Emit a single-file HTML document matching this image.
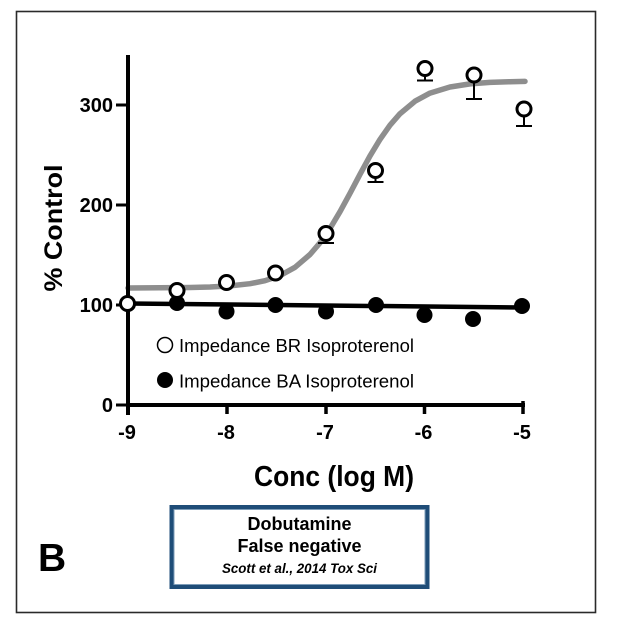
<!DOCTYPE html>
<html>
<head>
<meta charset="utf-8">
<style>
  html, body { margin:0; padding:0; background:#ffffff; }
  svg { display:block; }
  text { font-family: "Liberation Sans", Arial, sans-serif; fill:#000; }
</style>
</head>
<body>
<svg width="626" height="625" viewBox="0 0 626 625" xmlns="http://www.w3.org/2000/svg">
  <rect x="0" y="0" width="626" height="625" fill="#ffffff"/>
  <!-- outer frame -->
  <rect x="16.5" y="11.5" width="579" height="601" fill="none" stroke="#2a2a2a" stroke-width="1.6"/>

  <!-- gray fitted curve -->
  <polyline fill="none" stroke="#8e8e8e" stroke-width="5.5" stroke-linejoin="round" stroke-linecap="round"
    points="128,288 160,287.8 190,287.5 210,287 230,285.9 250,283.7 265,280.7 280,275.6 295,267.3 310,254.5 320,242.8 330,228.5 340,211.7 350,193.3 360,174.3 370,155.9 380,139.4 390,125.2 400,113.7 415,101.2 430,93.1 450,87 470,83.9 490,82.4 510,81.7 525,81.4"/>

  <!-- black fitted line -->
  <line x1="128" y1="303.5" x2="523" y2="307.5" stroke="#000" stroke-width="4.5"/>

  <!-- axes -->
  <line x1="128" y1="55" x2="128" y2="415" stroke="#000" stroke-width="4"/>
  <line x1="126" y1="405" x2="525" y2="405" stroke="#000" stroke-width="4"/>
  <!-- y ticks -->
  <g stroke="#000" stroke-width="3">
    <line x1="116" y1="105" x2="128" y2="105"/>
    <line x1="116" y1="205" x2="128" y2="205"/>
    <line x1="116" y1="305" x2="128" y2="305"/>
    <line x1="116" y1="405" x2="128" y2="405"/>
  </g>
  <!-- x ticks -->
  <g stroke="#000" stroke-width="3.5">
    <line x1="128" y1="405" x2="128" y2="415"/>
    <line x1="227" y1="405" x2="227" y2="414"/>
    <line x1="326" y1="405" x2="326" y2="414"/>
    <line x1="424.5" y1="405" x2="424.5" y2="414"/>
    <line x1="523" y1="401" x2="523" y2="414"/>
  </g>

  <!-- y tick labels -->
  <g font-size="20" font-weight="bold" text-anchor="end">
    <text x="113" y="112">300</text>
    <text x="113" y="212">200</text>
    <text x="113" y="312">100</text>
    <text x="113" y="412">0</text>
  </g>
  <!-- x tick labels -->
  <g font-size="20" font-weight="bold" text-anchor="middle">
    <text x="127" y="439">-9</text>
    <text x="226" y="439">-8</text>
    <text x="325" y="439">-7</text>
    <text x="423.5" y="439">-6</text>
    <text x="522" y="439">-5</text>
  </g>

  <!-- axis titles -->
  <text transform="translate(62,228) rotate(-90)" font-size="25" font-weight="bold" text-anchor="middle" textLength="127" lengthAdjust="spacingAndGlyphs">% Control</text>
  <text x="334" y="486" font-size="29" font-weight="bold" text-anchor="middle" textLength="160" lengthAdjust="spacingAndGlyphs" fill="#111">Conc (log M)</text>

  <!-- black points -->
  <g fill="#000">
    <circle cx="128" cy="304" r="8"/>
    <circle cx="177" cy="303" r="8"/>
    <circle cx="226.5" cy="311.5" r="8"/>
    <circle cx="275.5" cy="305" r="8"/>
    <circle cx="326" cy="311.5" r="8"/>
    <circle cx="376" cy="305" r="8"/>
    <circle cx="424.5" cy="315" r="8"/>
    <circle cx="473" cy="319" r="8"/>
    <circle cx="522" cy="306" r="8"/>
  </g>

  <!-- error bars for open points -->
  <g stroke="#000" stroke-width="2" fill="none">
    <line x1="326" y1="233" x2="326" y2="243"/><line x1="318" y1="243" x2="334" y2="243"/>
    <line x1="375.5" y1="171" x2="375.5" y2="182"/><line x1="367.5" y1="182" x2="383.5" y2="182"/>
    <line x1="425" y1="68" x2="425" y2="80.5"/><line x1="417" y1="80.5" x2="433" y2="80.5"/>
    <line x1="474" y1="75" x2="474" y2="99"/><line x1="466" y1="99" x2="482" y2="99"/>
    <line x1="524" y1="109" x2="524" y2="126"/><line x1="516" y1="126" x2="532" y2="126"/>
  </g>

  <!-- open points -->
  <g fill="#ffffff" stroke="#000" stroke-width="3">
    <circle cx="127.5" cy="303.5" r="7"/>
    <circle cx="177" cy="290.5" r="7"/>
    <circle cx="226.5" cy="282.5" r="7"/>
    <circle cx="275.5" cy="273" r="7"/>
    <circle cx="326" cy="233.5" r="7"/>
    <circle cx="375.5" cy="170.5" r="7"/>
    <circle cx="425" cy="68.5" r="7"/>
    <circle cx="474" cy="75" r="7"/>
    <circle cx="524" cy="109" r="7"/>
  </g>

  <!-- legend -->
  <circle cx="165" cy="345" r="7.5" fill="#fff" stroke="#000" stroke-width="1.5"/>
  <text x="179" y="352" font-size="18.5" textLength="235" lengthAdjust="spacingAndGlyphs">Impedance BR Isoproterenol</text>
  <circle cx="165" cy="380" r="8" fill="#000"/>
  <text x="179" y="387.5" font-size="18.5" textLength="235" lengthAdjust="spacingAndGlyphs">Impedance BA Isoproterenol</text>

  <!-- panel letter -->
  <text x="38" y="571" font-size="39" font-weight="bold">B</text>

  <!-- info box -->
  <rect x="171.5" y="507" width="256" height="80" fill="#ffffff" stroke="#1f4d78" stroke-width="4"/>
  <rect x="174" y="509.5" width="251" height="75" fill="none" stroke="#7d9cb8" stroke-width="1"/>
  <text x="299.5" y="530" font-size="18" font-weight="bold" text-anchor="middle">Dobutamine</text>
  <text x="299.5" y="552" font-size="18" font-weight="bold" text-anchor="middle">False negative</text>
  <text x="299.5" y="573" font-size="13.5" font-weight="bold" font-style="italic" text-anchor="middle" textLength="155" lengthAdjust="spacingAndGlyphs">Scott et al., 2014 Tox Sci</text>
</svg>
</body>
</html>
